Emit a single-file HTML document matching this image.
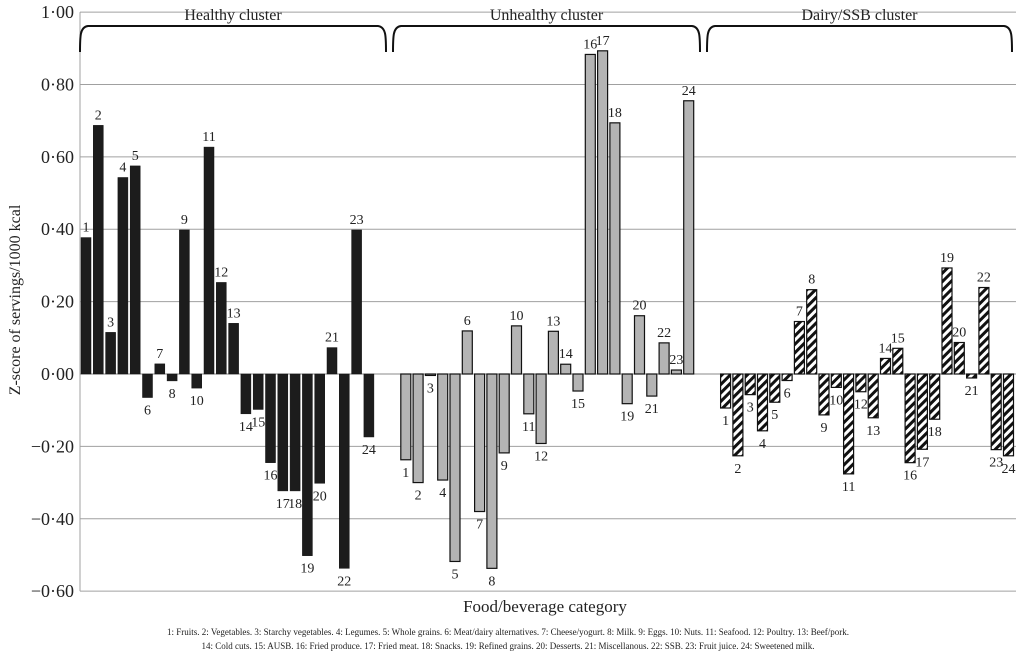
<!DOCTYPE html>
<html><head><meta charset="utf-8"><style>
body{margin:0;background:#fff;}
svg{display:block;font-family:"Liberation Serif",serif;}
</style></head><body>
<svg id="chart" width="1016" height="659" viewBox="0 0 1016 659" xmlns="http://www.w3.org/2000/svg">
<defs>
<pattern id="hatch" patternUnits="userSpaceOnUse" width="6" height="6" patternTransform="rotate(45)">
<rect width="6" height="6" fill="#fff"/><rect width="3" height="6" fill="#111"/>
</pattern>
</defs>
<g id="grid"></g>
<g id="bars"></g>
<g id="labels"></g>
<g id="braces"></g>
<text transform="translate(20,300) rotate(-90)" text-anchor="middle" font-size="16" fill="#222">Z-score of servings/1000 kcal</text>
<text x="545" y="612" text-anchor="middle" font-size="17" fill="#222">Food/beverage category</text>
<text x="508" y="635" text-anchor="middle" font-size="9" fill="#222">1: Fruits. 2: Vegetables. 3: Starchy vegetables. 4: Legumes. 5: Whole grains. 6: Meat/dairy alternatives. 7: Cheese/yogurt. 8: Milk. 9: Eggs. 10: Nuts. 11: Seafood. 12: Poultry. 13: Beef/pork.</text>
<text x="508" y="649" text-anchor="middle" font-size="9" fill="#222">14: Cold cuts. 15: AUSB. 16: Fried produce. 17: Fried meat. 18: Snacks. 19: Refined grains. 20: Desserts. 21: Miscellanous. 22: SSB. 23: Fruit juice. 24: Sweetened milk.</text>
</svg>
<script>
const clusters = ["Healthy cluster","Unhealthy cluster","Dairy/SSB cluster"];
const categories = [1,2,3,4,5,6,7,8,9,10,11,12,13,14,15,16,17,18,19,20,21,22,23,24];
const healthy = [0.377,0.687,0.115,0.543,0.575,-0.065,0.028,-0.019,0.398,-0.039,0.627,0.253,0.14,-0.11,-0.098,-0.245,-0.323,-0.323,-0.502,-0.302,0.073,-0.537,0.398,-0.174];
const unhealthy = [-0.237,-0.3,-0.004,-0.293,-0.518,0.119,-0.38,-0.537,-0.218,0.133,-0.11,-0.192,0.118,0.027,-0.047,0.883,0.893,0.694,-0.082,0.161,-0.061,0.086,0.011,0.755];
const dairy = [-0.094,-0.226,-0.057,-0.157,-0.078,-0.018,0.145,0.233,-0.113,-0.037,-0.276,-0.049,-0.121,0.043,0.071,-0.245,-0.208,-0.125,0.293,0.087,-0.011,0.239,-0.209,-0.226];
const yTicks = [1.0,0.8,0.6,0.4,0.2,0,-0.2,-0.4,-0.6];
const yTickLabels = ["1·00","0·80","0·60","0·40","0·20","0·00","\u22120·20","\u22120·40","\u22120·60"];

const NS="http://www.w3.org/2000/svg";
const Y0=374, PPU=361.9;
function y(v){return Y0 - v*PPU;}
function x(cluster,i){return 81 + (cluster*26 + i)*12.3;}
const BW=10;
function mk(tag,attrs,parent){const e=document.createElementNS(NS,tag);for(const k in attrs)e.setAttribute(k,attrs[k]);parent.appendChild(e);return e;}

const grid=document.getElementById('grid');
yTicks.forEach((t,k)=>{
  const l=mk('line',{x1:80,x2:1016,y1:y(t),y2:y(t),stroke:t===0?'#888':'#a0a0a0','stroke-width':1},grid);
  
  
  const tx=mk('text',{x:74,y:y(t)+6,'text-anchor':'end','font-size':18,fill:'#222'},grid);
  tx.textContent=yTickLabels[k];
  
  
});
const ax=mk('line',{x1:80,x2:80,y1:y(1.0),y2:y(-0.6),stroke:'#a0a0a0','stroke-width':1},grid);



const bars=document.getElementById('bars'), labels=document.getElementById('labels');
const series=[healthy,unhealthy,dairy];
const fills=['#1c1c1c','#b4b4b4','url(#hatch)'];
const names=['healthy','unhealthy','dairy'];
series.forEach((vals,c)=>{
  vals.forEach((v,i)=>{
    const bx=x(c,i), top=Math.min(y(v),Y0), h=Math.max(Math.abs(y(v)-Y0),1);
    const r=mk('rect',{x:bx,y:top,width:BW,height:h,fill:fills[c],stroke:'#111','stroke-width':c===0?0.5:1.2},bars);
    
    
    const ly = v>=0 ? y(v)-6 : y(v)+17;
    const t=mk('text',{x:bx+BW/2,y:ly,'text-anchor':'middle','font-size':14,fill:'#222'},labels);
    t.textContent=categories[i];
    
    
  });
});

const braces=document.getElementById('braces');
const bx=[[80,386],[393,700],[707,1012]];
bx.forEach((b,c)=>{
  const [a,e]=b;
  const p=mk('path',{d:`M${a},52 C${a},36 ${a},27 ${a+8},26 L${e-8},26 C${e},27 ${e},36 ${e},52`,fill:'none',stroke:'#111','stroke-width':2},braces);
  
  
  const t=mk('text',{x:(a+e)/2,y:20,'text-anchor':'middle','font-size':16,fill:'#222'},braces);
  t.textContent=clusters[c];
  
  
});
</script>
</body></html>
